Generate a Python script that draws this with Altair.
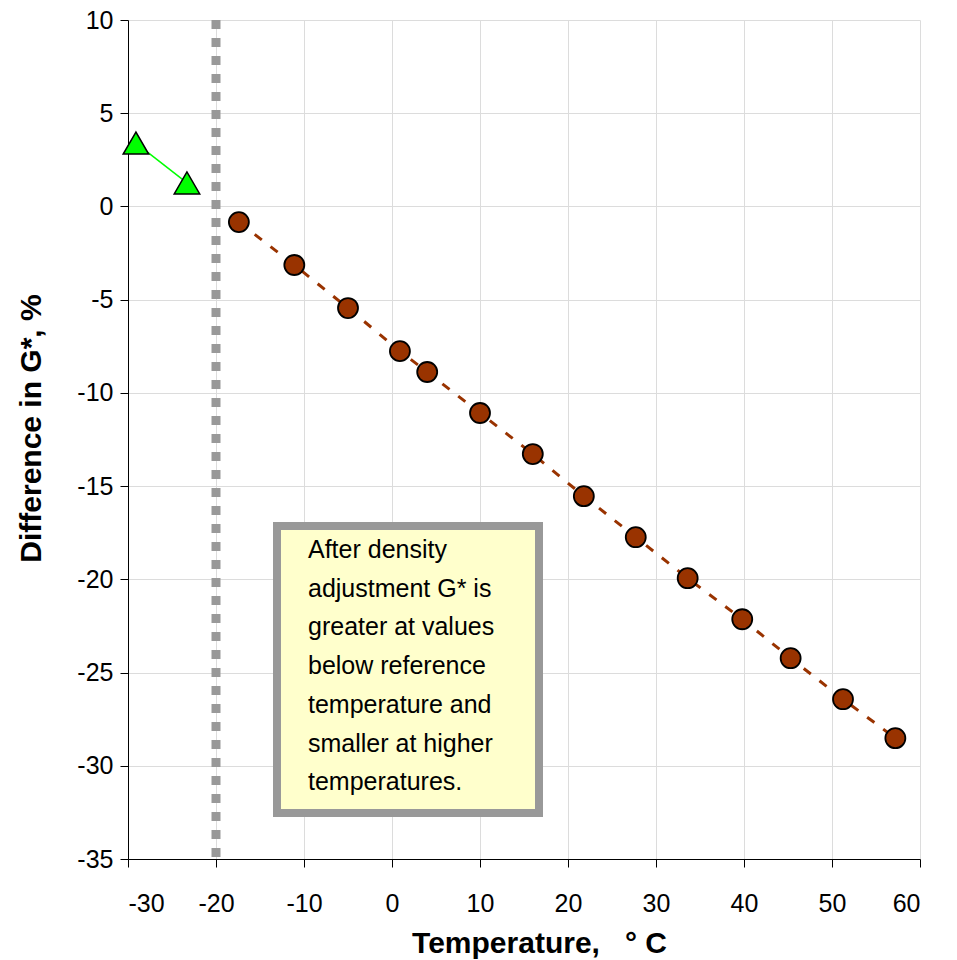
import altair as alt
import pandas as pd

# Data
circle_temp = [-17.4, -11.1, -5.0, 0.9, 4.0, 10.0, 16.0, 21.8, 27.7, 33.6, 39.8, 45.3, 51.25, 57.2]
circle_diff = [-0.84, -3.14, -5.45, -7.76, -8.88, -11.08, -13.28, -15.54, -17.74, -19.94, -22.14, -24.23, -26.43, -28.52]
tri_temp = [-29.1, -23.3]
tri_diff = [3.4, 1.26]
ref_temp = [-20]
ref_top = [10]
ref_bottom = [-35]
x_ticks = [-30, -20, -10, 0, 10, 20, 30, 40, 50, 60]
y_ticks = [-35, -30, -25, -20, -15, -10, -5, 0, 5, 10]
note_lines = [
    "After density",
    "adjustment G* is",
    "greater at values",
    "below reference",
    "temperature and",
    "smaller at higher",
    "temperatures.",
]

FONT = "Liberation Sans"

circles = pd.DataFrame({"t": circle_temp, "d": circle_diff})
tris = pd.DataFrame({"t": tri_temp, "d": tri_diff})
ref = pd.DataFrame({"t": ref_temp, "top": ref_top, "bot": ref_bottom})
dummy = pd.DataFrame({"a": [0]})

xscale = alt.Scale(domain=[-30, 60], nice=False, zero=False)
yscale = alt.Scale(domain=[-35, 10], nice=False, zero=False)

xaxis = alt.Axis(
    values=x_ticks,
    labelExpr="'' + datum.value",
    title="Temperature,\u00a0\u00a0\u00a0°\u00a0C",
    labelFontSize=25,
    labelFont=FONT,
    labelColor="black",
    labelPadding=24,
    tickSize=8,
    tickColor="black",
    domainColor="black",
    gridColor="#dcdcdc",
    titleFont=FONT,
    titleFontSize=30,
    titleFontWeight="bold",
    titleColor="black",
    titleX=411,
    titleY=84,
    titleAlign="center",
    titleBaseline="middle",
)
yaxis = alt.Axis(
    values=y_ticks,
    labelExpr="'' + datum.value",
    title="Difference in G*, %",
    labelFontSize=25,
    labelFont=FONT,
    labelColor="black",
    labelPadding=7,
    tickSize=8,
    tickColor="black",
    domainColor="black",
    gridColor="#dcdcdc",
    titleFont=FONT,
    titleFontSize=30,
    titleFontWeight="bold",
    titleColor="black",
    titleX=-97,
    titleY=408,
    titleBaseline="middle",
    titleAlign="center",
)

base_x = alt.X("t:Q", scale=xscale, axis=xaxis)
base_y = alt.Y("d:Q", scale=yscale, axis=yaxis)

ref_line = alt.Chart(ref).mark_rule(
    color="#999999", strokeWidth=9, strokeDash=[9, 9], strokeCap="butt"
).encode(
    x=alt.X("t:Q", scale=xscale, axis=xaxis),
    y=alt.Y("top:Q", scale=yscale, axis=yaxis),
    y2="bot:Q",
)

tri_line = alt.Chart(tris).mark_line(color="#00ff00", strokeWidth=1.5).encode(
    x=base_x, y=base_y
)
tri_pts = alt.Chart(tris).mark_point(
    shape="triangle-up", filled=True, fill="#00ff00", stroke="black",
    strokeWidth=1.5, size=650, opacity=1,
).encode(x=base_x, y=base_y)

dash_line = alt.Chart(circles).mark_line(
    color="#993300", strokeWidth=3, strokeDash=[9, 11]
).encode(x=base_x, y=base_y)

circ_pts = alt.Chart(circles).mark_point(
    shape="circle", filled=True, fill="#993300", stroke="black",
    strokeWidth=1.8, size=400, opacity=1,
).encode(x=base_x, y=base_y)

box = alt.Chart(dummy).mark_rect(
    fill="#ffffcc", stroke="#999999", strokeWidth=8
).encode(
    x=alt.value(149), x2=alt.value(411),
    y=alt.value(506), y2=alt.value(793),
)

note = alt.Chart(dummy).mark_text(
    align="left", baseline="alphabetic", font=FONT, fontSize=25, color="black",
    lineHeight=38.7,
).encode(
    x=alt.value(180), y=alt.value(538), text=alt.value(note_lines)
)

chart = alt.layer(
    ref_line, tri_line, tri_pts, dash_line, circ_pts, box, note
).properties(
    width=792,
    height=839,
    autosize=alt.AutoSizeParams(type="none"),
    padding={"left": 128, "top": 20, "right": 37, "bottom": 101},
    background="white",
).configure_view(stroke=None)

chart.save("out.html", embed_options={"renderer": "svg", "actions": False})
